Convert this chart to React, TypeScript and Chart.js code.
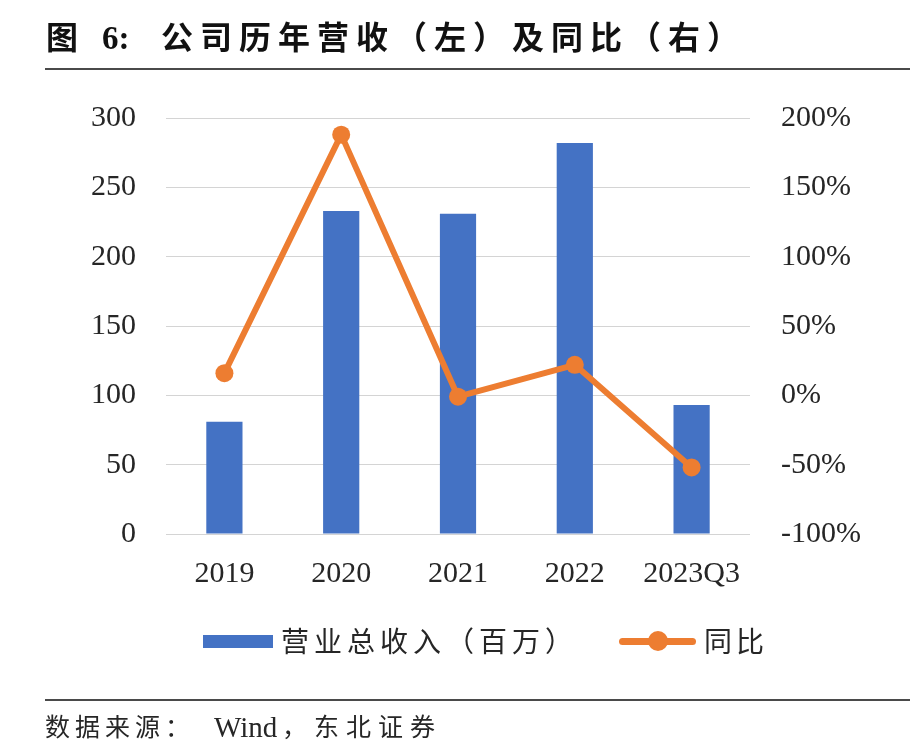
import React, { useEffect, useRef } from "react";
import { Chart, registerables } from "chart.js";

Chart.register(...registerables);

const categories = ["2019", "2020", "2021", "2022", "2023Q3"];
const revenue = [81, 233, 231, 282, 93];
const yoy = [16, 188, -1, 22, -52];
const leftTicks = { min: 0, max: 300, step: 50 };
const rightTicks = { min: -100, max: 200, step: 50 };

const BLUE = "#4472C4";
const ORANGE = "#ED7D31";
const TICK_FONT = { family: "'Liberation Serif', 'Times New Roman', serif", size: 30 };
const CJK = "'Liberation Serif', 'Noto Sans CJK SC', serif";

export default function App() {
  const ref = useRef<HTMLCanvasElement | null>(null);

  useEffect(() => {
    if (!ref.current) return;
    const chart = new Chart(ref.current, {
      type: "bar",
      data: {
        labels: categories,
        datasets: [
          {
            type: "line",
            label: "同比",
            data: yoy,
            yAxisID: "y1",
            borderColor: ORANGE,
            backgroundColor: ORANGE,
            borderWidth: 6,
            pointRadius: 9,
            pointHoverRadius: 9,
            pointBackgroundColor: ORANGE,
            pointBorderColor: ORANGE,
            pointBorderWidth: 0,
            tension: 0,
            borderJoinStyle: "round",
            borderCapStyle: "round",
            order: 0,
          } as any,
          {
            type: "bar",
            label: "营业总收入（百万）",
            data: revenue,
            yAxisID: "y",
            backgroundColor: BLUE,
            barPercentage: 0.31,
            categoryPercentage: 1,
            order: 1,
          },
        ],
      },
      options: {
        responsive: false,
        animation: false,
        devicePixelRatio: 1,
        layout: { padding: { top: 118, bottom: 156, left: 0, right: 0 } },
        plugins: { legend: { display: false }, tooltip: { enabled: false }, title: { display: false } },
        scales: {
          x: {
            grid: { display: false, drawTicks: false },
            border: { display: false },
            ticks: { font: TICK_FONT, color: "#262626", padding: 22, maxRotation: 0 },
            afterFit: (s: any) => { s.height = 60; },
          },
          y: {
            position: "left",
            min: leftTicks.min,
            max: leftTicks.max,
            ticks: { stepSize: leftTicks.step, font: TICK_FONT, color: "#262626", padding: 30 },
            grid: { color: "#d4d4d4", lineWidth: 1, drawTicks: false },
            border: { display: false },
            afterFit: (s: any) => { s.width = 166; },
          },
          y1: {
            position: "right",
            min: rightTicks.min,
            max: rightTicks.max,
            ticks: {
              stepSize: rightTicks.step,
              font: TICK_FONT,
              color: "#262626",
              padding: 31,
              callback: (v: any) => `${v}%`,
            },
            grid: { display: false, drawTicks: false },
            border: { display: false },
            afterFit: (s: any) => { s.width = 160; },
          },
        },
      },
    });
    return () => chart.destroy();
  }, []);

  const titleBase: React.CSSProperties = {
    position: "absolute",
    top: 20,
    fontFamily: CJK,
    fontSize: 32,
    fontWeight: "bold",
    lineHeight: "36px",
    color: "#111",
    whiteSpace: "nowrap",
  };

  return (
    <div style={{ position: "absolute", left: 0, top: 0, width: 910, height: 750, background: "#fff", overflow: "hidden" }}>
      <canvas ref={ref} width={910} height={750} style={{ position: "absolute", left: 0, top: 0, width: 910, height: 750 }} />
      {/* title */}
      <div style={{ ...titleBase, left: 46 }}>图</div>
      <div style={{ ...titleBase, left: 102, fontSize: 33 }}>6:</div>
      <div style={{ ...titleBase, left: 161, letterSpacing: "7px" }}>公司历年营收（左）及同比（右）</div>
      <div style={{ position: "absolute", left: 45, top: 68, width: 865, height: 2, background: "#4a4a4a" }} />
      {/* legend */}
      <div style={{ position: "absolute", left: 203, top: 635, width: 70, height: 13, background: BLUE }} />
      <div style={{ position: "absolute", left: 281, top: 627, fontFamily: CJK, fontSize: 28, lineHeight: "32px", letterSpacing: "5px", color: "#262626", whiteSpace: "nowrap" }}>营业总收入（百万）</div>
      <div style={{ position: "absolute", left: 619, top: 638, width: 77, height: 7, borderRadius: 4, background: ORANGE }} />
      <div style={{ position: "absolute", left: 648, top: 631, width: 20, height: 20, borderRadius: 10, background: ORANGE }} />
      <div style={{ position: "absolute", left: 704, top: 627, fontFamily: CJK, fontSize: 28, lineHeight: "32px", letterSpacing: "4px", color: "#262626", whiteSpace: "nowrap" }}>同比</div>
      {/* footer */}
      <div style={{ position: "absolute", left: 45, top: 699, width: 865, height: 2, background: "#4a4a4a" }} />
      <div style={{ position: "absolute", left: 45, top: 713, fontFamily: CJK, fontSize: 25, lineHeight: "30px", letterSpacing: "5px", color: "#262626", whiteSpace: "nowrap" }}>数据来源：</div>
      <div style={{ position: "absolute", left: 214, top: 711, fontFamily: "'Liberation Serif', serif", fontSize: 29, lineHeight: "32px", color: "#262626", whiteSpace: "nowrap" }}>Wind</div>
      <div style={{ position: "absolute", left: 282, top: 713, fontFamily: CJK, fontSize: 25, lineHeight: "30px", letterSpacing: "7px", color: "#262626", whiteSpace: "nowrap" }}>，东北证券</div>
    </div>
  );
}
